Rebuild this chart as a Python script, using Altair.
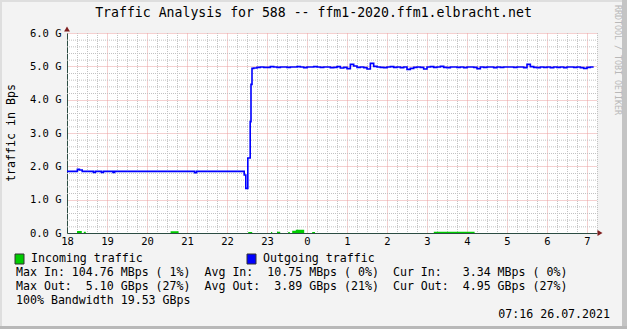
import altair as alt
import pandas as pd

# ---------------- data (hours since 00:00 of day 1; values in GBps) ----------------
# Outgoing traffic, irregular breakpoints before the jump
out_t1 = [18.00, 18.26, 18.31, 18.38, 18.66, 18.71, 18.86, 18.91, 19.15, 19.19,
          21.19, 21.24, 22.43, 22.47, 22.52, 22.58, 22.60, 22.625]
out_v1 = [1.85, 1.91, 1.89, 1.85, 1.82, 1.85, 1.82, 1.85, 1.82, 1.85,
          1.81, 1.85, 1.74, 1.34, 2.25, 3.34, 4.46, 4.94]
# Outgoing traffic, 5-minute samples from 22:40 onward
out_start2 = 22.667
out_v2 = [4.95, 4.97, 4.98, 4.97, 4.97, 4.99, 4.98, 4.97, 4.98, 4.98,
          4.97, 4.98, 4.98, 4.99, 4.98, 4.96, 4.98, 4.98, 4.99, 4.98,
          4.97, 4.98, 4.98, 4.96, 4.97, 4.99, 4.95, 4.97, 4.93, 5.06,
          5.01, 4.97, 4.98, 4.96, 4.92, 5.09, 5.00, 4.98, 4.97, 4.96,
          4.98, 4.99, 4.97, 4.98, 4.96, 4.98, 4.91, 4.94, 4.97, 4.98,
          4.97, 4.92, 4.98, 4.99, 4.97, 4.98, 5.00, 4.97, 4.96, 4.98,
          4.98, 4.97, 4.98, 4.96, 4.98, 4.98, 4.97, 4.93, 4.98, 4.97,
          4.98, 4.98, 4.96, 4.98, 4.97, 4.98, 4.98, 4.98, 4.97, 4.98,
          4.98, 4.96, 5.06, 4.99, 4.97, 4.96, 4.98, 4.97, 4.98, 4.96,
          4.98, 4.97, 4.98, 4.96, 4.98, 4.98, 4.97, 4.98, 4.96, 4.94,
          4.97, 4.98]
end_t = 31.167

# Incoming traffic breakpoints
in_t = [18.00, 18.25, 18.37, 18.42, 18.47, 20.59, 20.79, 22.53, 22.63, 23.10,
        23.13, 23.25, 23.33, 23.53, 23.57, 23.63, 23.72, 23.93, 24.13, 24.20,
        27.17, 28.19, end_t]
in_v = [0.0, 0.06, 0.0, 0.04, 0.0, 0.05, 0.0, 0.03, 0.0, 0.03,
        0.0, 0.04, 0.0, 0.03, 0.0, 0.07, 0.10, 0.0, 0.03, 0.0,
        0.04, 0.0, 0.0]

# grid / tick positions
x_minor = [18 + 0.25 * k for k in range(54) if k % 4 != 0]
x_major = [float(18 + k) for k in range(14)]
y_minor = [round(0.2 * k, 1) for k in range(31) if k % 5 != 0]
y_major = [float(k) for k in range(7)]

title_text = "Traffic Analysis for 588 -- ffm1-2020.ffm1.elbracht.net"
ylabel_text = "traffic in Bps"
legend_in = "Incoming traffic"
legend_out = "Outgoing traffic"
row2 = "Max In: 104.76 MBps ( 1%)  Avg In:  10.75 MBps ( 0%)  Cur In:   3.34 MBps ( 0%)"
row3 = "Max Out:  5.10 GBps (27%)  Avg Out:  3.89 GBps (21%)  Cur Out:  4.95 GBps (27%)"
row4 = "100% Bandwidth 19.53 GBps"
stamp = "07:16 26.07.2021"
watermark = "RRDTOOL / TOBI OETIKER"

# ---------------- tables ----------------
out_t2 = [round(out_start2 + i / 12, 4) for i in range(len(out_v2))]
df_out = pd.DataFrame({"t": out_t1 + out_t2 + [end_t],
                       "v": out_v1 + out_v2 + [out_v2[-1]]})
df_in = pd.DataFrame({"t": in_t, "v": in_v})
df_vg = pd.DataFrame({"t": x_minor})
df_hg = pd.DataFrame({"v": y_minor})

MONO = "DejaVu Sans Mono"
W, H = 530, 200
MINOR = "#c2c2c2"
MAJOR = "#eba0a0"

# major grid comes from the axes, minor grid from rule layers
xaxis = alt.Axis(values=x_major, title=None, ticks=False,
                 grid=True, gridColor=MAJOR, gridDash=[1, 1], gridWidth=1,
                 labelExpr="'' + (round(datum.value) % 24)",
                 labelFont=MONO, labelFontSize=10.5, labelColor="black",
                 labelPadding=3, labelOverlap=False, labelFlush=False,
                 domainColor="#2c4d43", domainWidth=1)
yaxis = alt.Axis(values=y_major, title=None, ticks=False,
                 grid=True, gridColor=MAJOR, gridDash=[1, 1], gridWidth=1,
                 labelExpr="format(datum.value, '.1f') + ' G'",
                 labelFont=MONO, labelFontSize=10.5, labelColor="black",
                 labelPadding=6, labelOverlap=False, labelFlush=False,
                 domainColor="#2c4d43", domainWidth=1)

xs = alt.Scale(domain=[18, 31.25], nice=False, zero=False)
ys = alt.Scale(domain=[0, 6], nice=False, zero=True)
X = alt.X("t:Q", scale=xs, axis=xaxis)
Y = alt.Y("v:Q", scale=ys, axis=yaxis)

vgrid = alt.Chart(df_vg).mark_rule(
    color=MINOR, strokeWidth=1, strokeDash=[1, 1], xOffset=0.5
).encode(x=X, y=alt.value(0), y2=alt.value(H))
hgrid = alt.Chart(df_hg).mark_rule(
    color=MINOR, strokeWidth=1, strokeDash=[1, 1], yOffset=0.5
).encode(y=Y, x=alt.value(0), x2=alt.value(W))

incoming = alt.Chart(df_in).mark_area(interpolate="step-after", color="#00cc00",
                                      opacity=1).encode(x=X, y=Y)
outgoing = alt.Chart(df_out).mark_line(interpolate="step-after", color="#0000ff",
                                       strokeWidth=1.6).encode(x=X, y=Y)

arrow_up = alt.Chart(pd.DataFrame({"t": [18.0], "v": [6.0]})).mark_point(
    shape="triangle-up", filled=True, size=34, color="#7f1f1f", opacity=1, yOffset=-4
).encode(x=X, y=Y)
arrow_right = alt.Chart(pd.DataFrame({"t": [31.25], "v": [0.0]})).mark_point(
    shape="triangle-right", filled=True, size=34, color="#7f1f1f", opacity=1, xOffset=3
).encode(x=X, y=Y)

one = pd.DataFrame({"a": [0]})


def txt(s, x, y, size=11.6, align="left", angle=0, color="black"):
    return alt.Chart(one).mark_text(
        font=MONO, fontSize=size, align=align, baseline="middle", angle=angle,
        color=color
    ).encode(x=alt.value(x), y=alt.value(y), text=alt.value(s.replace(" ", "\u00a0")))


def box(x, x2, y, y2, color, stroke=None):
    kw = dict(color=color, opacity=1)
    if stroke:
        kw.update(stroke=stroke, strokeWidth=1)
    return alt.Chart(one).mark_rect(**kw).encode(
        x=alt.value(x), x2=alt.value(x2), y=alt.value(y), y2=alt.value(y2))


decor = [
    box(-67, 560, -33, -31, "#dedede"),
    box(-67, -65, -33, 296, "#dedede"),
    box(555, 560, -33, 296, "#c4c4c4"),
    box(-67, 560, 293, 296, "#b8b8b8"),
    txt(title_text, 246.5, -20, size=13.2, align="center"),
    txt(ylabel_text, -55, 100, size=11.6, align="center", angle=270),
    txt(watermark, 550, -28, size=8.3, align="left", angle=90, color="#b8b8b8"),
    box(-52, -43, 221, 231, "#00cc00", stroke="#333333"),
    txt(legend_in, -36, 226),
    box(180, 189, 221, 231, "#0000ff", stroke="#333333"),
    txt(legend_out, 196, 226),
    txt(row2, -51, 240),
    txt(row3, -51, 254),
    txt(row4, -51, 268),
    txt(stamp, 543, 282, align="right"),
]

chart = alt.layer(vgrid, hgrid, incoming, outgoing, arrow_up, arrow_right, *decor).properties(
    width=W, height=H,
    autosize=alt.AutoSizeParams(type="none"),
    padding={"left": 67, "top": 33, "right": 30, "bottom": 96},
    background="#f3f3f3",
).configure_view(stroke=None, fill="white")

chart.save("out.html", embed_options={"renderer": "svg", "actions": False})
